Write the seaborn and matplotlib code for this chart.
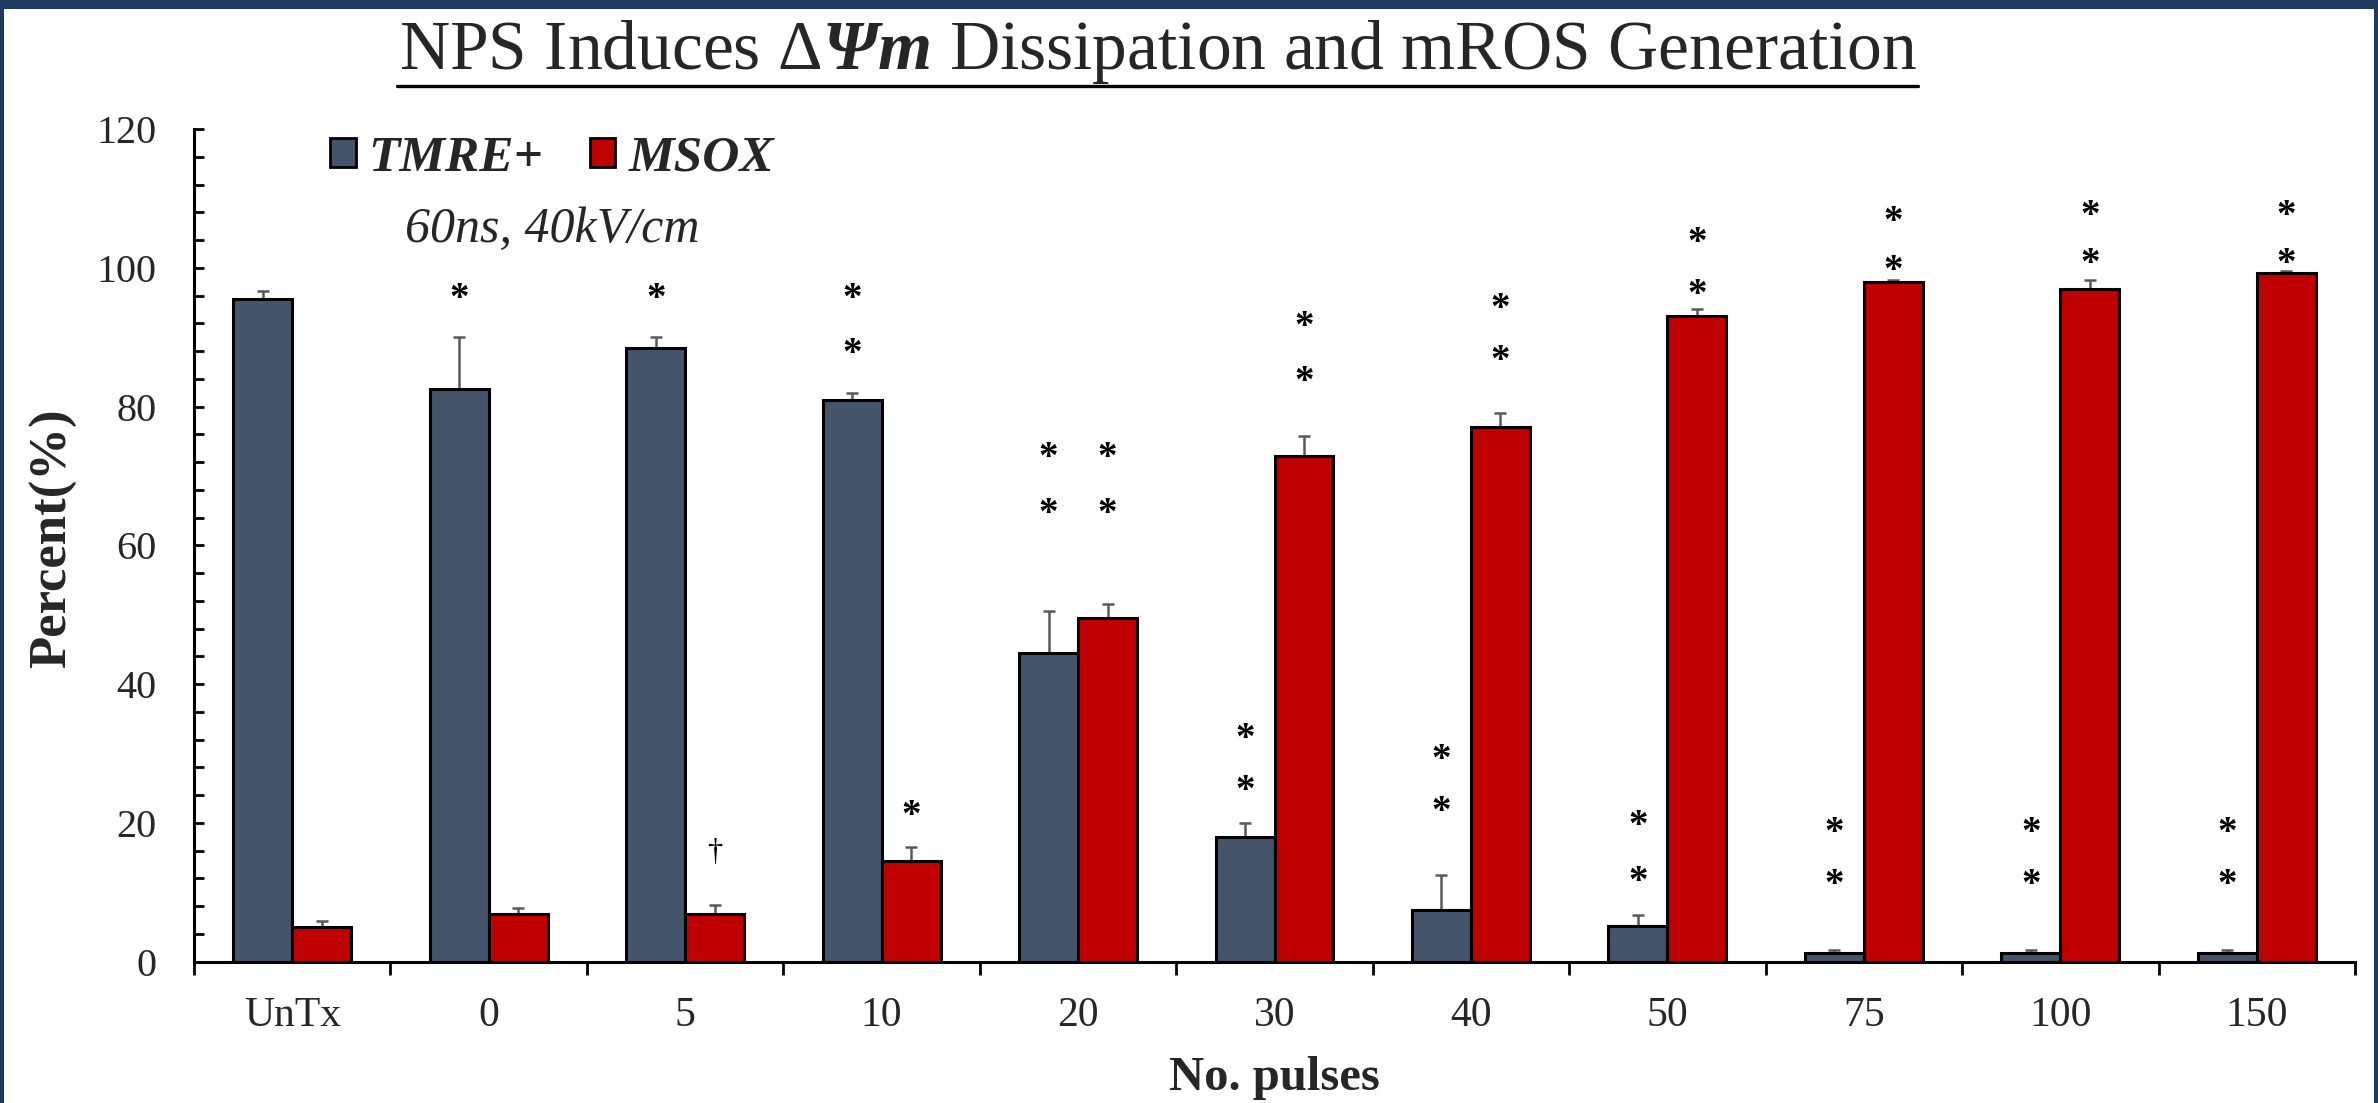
import numpy as np
import pandas as pd
import matplotlib
matplotlib.use('Agg')
import matplotlib.pyplot as plt
import seaborn as sns
from matplotlib.patches import Rectangle
from matplotlib.lines import Line2D
from matplotlib.ticker import MultipleLocator, FixedLocator
from matplotlib.font_manager import FontProperties

# ---------------- data ----------------
categories = ['UnTx', '0', '5', '10', '20', '30', '40', '50', '75', '100', '150']
series_names = ['TMRE+', 'MSOX']
tmre = [95.5, 82.5, 88.5, 81.0, 44.5, 18.0, 7.5, 5.2, 1.2, 1.2, 1.2]
tmre_err = [1.2, 7.5, 1.5, 1.0, 6.0, 2.0, 5.0, 1.5, 0.4, 0.4, 0.4]
msox = [5.0, 6.8, 6.8, 14.5, 49.5, 72.8, 77.0, 93.0, 98.0, 97.0, 99.2]
msox_err = [0.9, 0.9, 1.3, 2.0, 2.0, 3.0, 2.0, 1.0, 0.3, 1.3, 0.4]
# significance marks: (category index, series index, value at mark centre, symbol)
marks = [
    (1, 0, 97, '*'), (2, 0, 97, '*'), (3, 0, 97, '*'), (3, 0, 89, '*'),
    (4, 0, 74, '*'), (4, 0, 66, '*'), (4, 1, 74, '*'), (4, 1, 66, '*'),
    (5, 0, 33.5, '*'), (5, 0, 26, '*'), (6, 0, 30.5, '*'), (6, 0, 23, '*'),
    (7, 0, 21, '*'), (7, 0, 13, '*'), (8, 0, 20, '*'), (8, 0, 12.5, '*'),
    (9, 0, 20, '*'), (9, 0, 12.5, '*'), (10, 0, 20, '*'), (10, 0, 12.5, '*'),
    (2, 1, 17, '\u2020'), (3, 1, 22.5, '*'),
    (5, 1, 93, '*'), (5, 1, 85, '*'), (6, 1, 95.5, '*'), (6, 1, 88, '*'),
    (7, 1, 105, '*'), (7, 1, 97.5, '*'), (8, 1, 108, '*'), (8, 1, 101, '*'),
    (9, 1, 109, '*'), (9, 1, 102, '*'), (10, 1, 109, '*'), (10, 1, 102, '*'),
]
title_text = r'NPS Induces $\Delta\mathbfit{\Psi m}$ Dissipation and mROS Generation'
subtitle_text = '60ns, 40kV/cm'
colors = ['#44546A', '#C00000']

# ---------------- style ----------------
sns.set_theme(style='white')
plt.rcParams['font.family'] = ['Liberation Serif', 'DejaVu Serif']
plt.rcParams['mathtext.fontset'] = 'custom'
plt.rcParams['mathtext.rm'] = 'Liberation Serif'
plt.rcParams['mathtext.it'] = 'Liberation Serif:italic'
plt.rcParams['mathtext.bf'] = 'Liberation Serif:bold'
plt.rcParams['mathtext.bfit'] = 'Liberation Serif:bold:italic'

W, H = 2378, 1103
fig = plt.figure(figsize=(W / 100, H / 100), dpi=100)
ax_left, ax_right = 194 / W, 2355 / W
ax_bottom, ax_top = (H - 961.6) / H, (H - 129) / H
ax = fig.add_axes([ax_left, ax_bottom, ax_right - ax_left, ax_top - ax_bottom])

df = pd.DataFrame({
    'No. pulses': categories * 2,
    'Percent': tmre + msox,
    'Series': [series_names[0]] * len(categories) + [series_names[1]] * len(categories),
})
sns.barplot(data=df, x='No. pulses', y='Percent', hue='Series', order=categories,
            hue_order=series_names, palette=colors, saturation=1, width=0.6, gap=0,
            edgecolor='black', linewidth=2.2, errorbar=None, ax=ax, zorder=2)

errs = [tmre_err, msox_err]
bar_centers = []
for ci, cont in enumerate(ax.containers[:2]):
    xs = [b.get_x() + b.get_width() / 2 for b in cont]
    ys = [b.get_height() for b in cont]
    bar_centers.append(xs)
    ax.errorbar(xs, ys, yerr=[np.zeros(len(ys)), errs[ci]], fmt='none',
                ecolor='#595959', elinewidth=1.8, capsize=4.5, capthick=1.8, zorder=1)

for cat_i, ser_i, val, sym in marks:
    fs = 28 if sym == '*' else 22
    ax.annotate(sym, (bar_centers[ser_i][cat_i], val), xytext=(0, -0.52 * fs),
                textcoords='offset points', ha='center', va='baseline', fontsize=fs,
                color='black', family='Liberation Serif',
                fontweight='bold' if sym == '*' else 'normal')

ax.set_xlim(-0.5, len(categories) - 0.5)
ax.set_ylim(0, 120)
ax.set_yticks(np.arange(0, 121, 20))
ax.yaxis.set_minor_locator(MultipleLocator(4))
ax.xaxis.set_minor_locator(FixedLocator(np.arange(-0.5, len(categories), 1.0)))
ax.tick_params(axis='y', which='both', direction='in', length=7, width=2, color='black',
               labelsize=29, pad=27, left=True)
ax.tick_params(axis='x', which='major', length=0, labelsize=30, pad=25)
ax.tick_params(axis='x', which='minor', direction='out', length=9, width=2, color='black', bottom=True)
for lab in ax.get_xticklabels() + ax.get_yticklabels():
    lab.set_family('Liberation Serif')
for s in ['top', 'right']:
    ax.spines[s].set_visible(False)
for s in ['left', 'bottom']:
    ax.spines[s].set_linewidth(2.2)
    ax.spines[s].set_color('black')
ax.grid(False)

ax.set_xlabel('No. pulses', fontsize=35, fontweight='bold', family='Liberation Serif')
ax.xaxis.set_label_coords(0.5, -0.113)
ax.set_ylabel('Percent(%)', fontsize=38, fontweight='bold', family='Liberation Serif')
ax.yaxis.set_label_coords(-0.054, 0.508)

leg = ax.legend(ncol=2, frameon=False, loc='center left', bbox_to_anchor=(0.063, 0.964),
                borderaxespad=0, borderpad=0, handlelength=0.5, handleheight=0.5,
                handletextpad=0.25, columnspacing=0.9,
                prop=FontProperties(family='Liberation Serif', weight='bold', style='italic', size=37))
for h in leg.legend_handles:
    h.set_edgecolor('black')
    h.set_linewidth(2)

ax.text(0.166, 0.879, subtitle_text, transform=ax.transAxes, ha='center', va='center',
        fontsize=36, style='italic', family='Liberation Serif')

fig.text(1158 / W, 1 - 52 / H, title_text, ha='center', va='center', fontsize=50,
         family='Liberation Serif')
fig.add_artist(Line2D([397 / W, 1918 / W], [1 - 86 / H, 1 - 86 / H], transform=fig.transFigure,
                      color='black', lw=2.4))

# frame
navy = '#1F3A60'
fig.add_artist(Rectangle((0, 1 - 9 / H), 1, 9 / H, transform=fig.transFigure, color=navy, lw=0))
fig.add_artist(Rectangle((0, 0), 4 / W, 1, transform=fig.transFigure, color=navy, lw=0))
fig.add_artist(Rectangle((1 - 4 / W, 0), 4 / W, 1, transform=fig.transFigure, color=navy, lw=0))

fig.savefig('out.png', dpi=100)
